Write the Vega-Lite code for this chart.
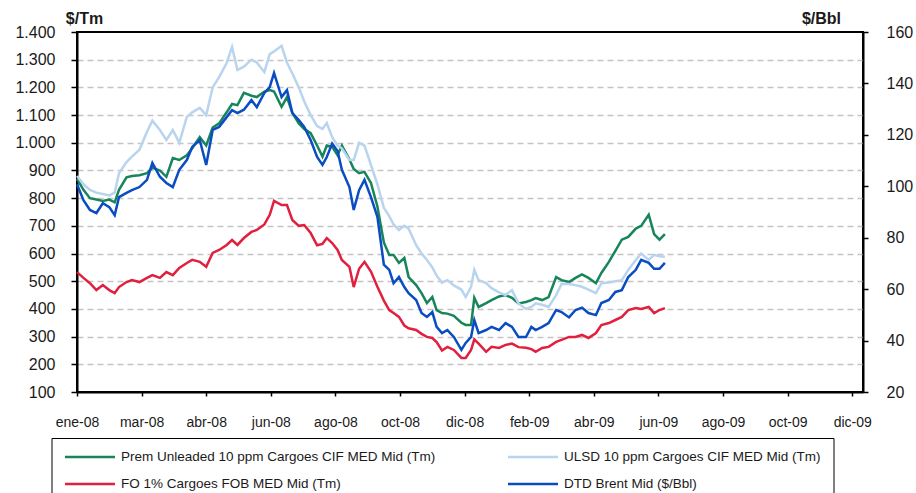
{
  "$schema": "https://vega.github.io/schema/vega-lite/v6.json",
  "width": 786,
  "height": 360,
  "autosize": "none",
  "padding": {"left": 77, "top": 32, "right": 53, "bottom": 101},
  "background": "white",
  "config": {
    "font": "Liberation Sans",
    "view": {"stroke": "#000", "strokeWidth": 2},
    "axis": {"labelFont": "Liberation Sans", "labelColor": "#1a1a1a", "domainColor": "#000", "domainWidth": 2, "tickColor": "#000", "tickWidth": 1.5, "titleFont": "Liberation Sans", "titleColor": "#1a1a1a"}
  },
  "data": {"values": [
    {"date": "2008-01-01", "prem": 870, "ulsd": 880, "fo": 533, "brent": 100.8},
    {"date": "2008-01-07", "prem": 830, "ulsd": 850, "fo": 512, "brent": 94.6},
    {"date": "2008-01-13", "prem": 800, "ulsd": 830, "fo": 493, "brent": 90.8},
    {"date": "2008-01-19", "prem": 795, "ulsd": 820, "fo": 468, "brent": 89.6},
    {"date": "2008-01-25", "prem": 790, "ulsd": 815, "fo": 486, "brent": 93.4},
    {"date": "2008-01-31", "prem": 795, "ulsd": 810, "fo": 468, "brent": 91.9},
    {"date": "2008-02-05", "prem": 785, "ulsd": 820, "fo": 457, "brent": 88.8},
    {"date": "2008-02-09", "prem": 830, "ulsd": 890, "fo": 479, "brent": 95.8},
    {"date": "2008-02-16", "prem": 875, "ulsd": 930, "fo": 497, "brent": 97.4},
    {"date": "2008-02-21", "prem": 880, "ulsd": 950, "fo": 504, "brent": 98.5},
    {"date": "2008-02-28", "prem": 883, "ulsd": 975, "fo": 497, "brent": 99.7},
    {"date": "2008-03-06", "prem": 890, "ulsd": 1040, "fo": 512, "brent": 102.5},
    {"date": "2008-03-11", "prem": 910, "ulsd": 1080, "fo": 522, "brent": 109.1},
    {"date": "2008-03-18", "prem": 900, "ulsd": 1046, "fo": 512, "brent": 103.7},
    {"date": "2008-03-24", "prem": 877, "ulsd": 1010, "fo": 533, "brent": 101.3},
    {"date": "2008-03-30", "prem": 945, "ulsd": 1046, "fo": 522, "brent": 99.7},
    {"date": "2008-04-05", "prem": 938, "ulsd": 1000, "fo": 548, "brent": 106.4},
    {"date": "2008-04-12", "prem": 955, "ulsd": 1093, "fo": 566, "brent": 110.2},
    {"date": "2008-04-17", "prem": 980, "ulsd": 1110, "fo": 577, "brent": 115.3},
    {"date": "2008-04-24", "prem": 1020, "ulsd": 1126, "fo": 570, "brent": 118.0},
    {"date": "2008-04-30", "prem": 990, "ulsd": 1100, "fo": 552, "brent": 108.3},
    {"date": "2008-05-06", "prem": 1055, "ulsd": 1200, "fo": 602, "brent": 121.9},
    {"date": "2008-05-12", "prem": 1070, "ulsd": 1237, "fo": 613, "brent": 123.1},
    {"date": "2008-05-19", "prem": 1110, "ulsd": 1288, "fo": 631, "brent": 126.9},
    {"date": "2008-05-24", "prem": 1140, "ulsd": 1346, "fo": 649, "brent": 129.6},
    {"date": "2008-05-29", "prem": 1136, "ulsd": 1263, "fo": 631, "brent": 128.5},
    {"date": "2008-06-04", "prem": 1180, "ulsd": 1275, "fo": 656, "brent": 129.8},
    {"date": "2008-06-11", "prem": 1170, "ulsd": 1300, "fo": 678, "brent": 133.5},
    {"date": "2008-06-16", "prem": 1165, "ulsd": 1290, "fo": 685, "brent": 130.8},
    {"date": "2008-06-23", "prem": 1185, "ulsd": 1255, "fo": 705, "brent": 136.3},
    {"date": "2008-06-28", "prem": 1190, "ulsd": 1320, "fo": 740, "brent": 138.6},
    {"date": "2008-07-02", "prem": 1185, "ulsd": 1330, "fo": 790, "brent": 144.1},
    {"date": "2008-07-09", "prem": 1130, "ulsd": 1350, "fo": 775, "brent": 134.7},
    {"date": "2008-07-14", "prem": 1165, "ulsd": 1290, "fo": 775, "brent": 137.4},
    {"date": "2008-07-19", "prem": 1108, "ulsd": 1250, "fo": 721, "brent": 128.5},
    {"date": "2008-07-25", "prem": 1070, "ulsd": 1200, "fo": 700, "brent": 125.8},
    {"date": "2008-07-30", "prem": 1050, "ulsd": 1150, "fo": 703, "brent": 123.1},
    {"date": "2008-08-05", "prem": 1035, "ulsd": 1100, "fo": 674, "brent": 118.0},
    {"date": "2008-08-11", "prem": 990, "ulsd": 1060, "fo": 630, "brent": 111.4},
    {"date": "2008-08-16", "prem": 950, "ulsd": 1050, "fo": 635, "brent": 108.3},
    {"date": "2008-08-20", "prem": 990, "ulsd": 1071, "fo": 656, "brent": 111.4},
    {"date": "2008-08-25", "prem": 985, "ulsd": 1020, "fo": 638, "brent": 116.6},
    {"date": "2008-08-30", "prem": 955, "ulsd": 990, "fo": 613, "brent": 113.7},
    {"date": "2008-09-03", "prem": 990, "ulsd": 980, "fo": 577, "brent": 106.4},
    {"date": "2008-09-10", "prem": 940, "ulsd": 938, "fo": 552, "brent": 99.7},
    {"date": "2008-09-14", "prem": 905, "ulsd": 938, "fo": 479, "brent": 90.8},
    {"date": "2008-09-19", "prem": 890, "ulsd": 1000, "fo": 545, "brent": 98.5},
    {"date": "2008-09-24", "prem": 895, "ulsd": 990, "fo": 570, "brent": 102.5},
    {"date": "2008-09-30", "prem": 855, "ulsd": 920, "fo": 535, "brent": 95.8},
    {"date": "2008-10-06", "prem": 770, "ulsd": 850, "fo": 480, "brent": 88.1},
    {"date": "2008-10-12", "prem": 640, "ulsd": 765, "fo": 430, "brent": 69.5},
    {"date": "2008-10-17", "prem": 595, "ulsd": 735, "fo": 396, "brent": 67.5},
    {"date": "2008-10-21", "prem": 595, "ulsd": 705, "fo": 385, "brent": 62.3},
    {"date": "2008-10-26", "prem": 566, "ulsd": 685, "fo": 371, "brent": 64.7},
    {"date": "2008-10-31", "prem": 584, "ulsd": 700, "fo": 340, "brent": 60.8},
    {"date": "2008-11-04", "prem": 515, "ulsd": 690, "fo": 330, "brent": 58.4},
    {"date": "2008-11-11", "prem": 486, "ulsd": 630, "fo": 324, "brent": 55.8},
    {"date": "2008-11-16", "prem": 457, "ulsd": 600, "fo": 310, "brent": 50.7},
    {"date": "2008-11-21", "prem": 421, "ulsd": 577, "fo": 299, "brent": 49.2},
    {"date": "2008-11-26", "prem": 443, "ulsd": 550, "fo": 295, "brent": 51.1},
    {"date": "2008-11-30", "prem": 396, "ulsd": 520, "fo": 280, "brent": 45.3},
    {"date": "2008-12-05", "prem": 385, "ulsd": 495, "fo": 250, "brent": 42.9},
    {"date": "2008-12-10", "prem": 383, "ulsd": 504, "fo": 263, "brent": 44.1},
    {"date": "2008-12-16", "prem": 375, "ulsd": 485, "fo": 252, "brent": 41.4},
    {"date": "2008-12-23", "prem": 350, "ulsd": 470, "fo": 223, "brent": 36.4},
    {"date": "2008-12-27", "prem": 342, "ulsd": 443, "fo": 223, "brent": 39.1},
    {"date": "2009-01-01", "prem": 342, "ulsd": 480, "fo": 252, "brent": 41.4},
    {"date": "2009-01-04", "prem": 440, "ulsd": 541, "fo": 290, "brent": 48.0},
    {"date": "2009-01-08", "prem": 407, "ulsd": 504, "fo": 275, "brent": 42.9},
    {"date": "2009-01-15", "prem": 421, "ulsd": 493, "fo": 245, "brent": 44.1},
    {"date": "2009-01-20", "prem": 432, "ulsd": 475, "fo": 263, "brent": 45.3},
    {"date": "2009-01-27", "prem": 445, "ulsd": 460, "fo": 259, "brent": 44.1},
    {"date": "2009-02-02", "prem": 450, "ulsd": 450, "fo": 270, "brent": 46.8},
    {"date": "2009-02-08", "prem": 440, "ulsd": 468, "fo": 275, "brent": 45.3},
    {"date": "2009-02-14", "prem": 420, "ulsd": 420, "fo": 262, "brent": 41.4},
    {"date": "2009-02-21", "prem": 425, "ulsd": 400, "fo": 260, "brent": 41.4},
    {"date": "2009-02-26", "prem": 432, "ulsd": 407, "fo": 255, "brent": 45.3},
    {"date": "2009-03-02", "prem": 439, "ulsd": 420, "fo": 245, "brent": 44.1},
    {"date": "2009-03-08", "prem": 432, "ulsd": 415, "fo": 259, "brent": 45.3},
    {"date": "2009-03-14", "prem": 443, "ulsd": 407, "fo": 263, "brent": 46.8},
    {"date": "2009-03-21", "prem": 515, "ulsd": 450, "fo": 281, "brent": 51.9},
    {"date": "2009-03-26", "prem": 504, "ulsd": 490, "fo": 288, "brent": 51.1},
    {"date": "2009-04-02", "prem": 497, "ulsd": 490, "fo": 299, "brent": 49.0},
    {"date": "2009-04-08", "prem": 512, "ulsd": 486, "fo": 299, "brent": 51.9},
    {"date": "2009-04-14", "prem": 525, "ulsd": 480, "fo": 306, "brent": 52.8},
    {"date": "2009-04-20", "prem": 512, "ulsd": 470, "fo": 295, "brent": 50.7},
    {"date": "2009-04-27", "prem": 493, "ulsd": 457, "fo": 313, "brent": 49.9},
    {"date": "2009-05-02", "prem": 530, "ulsd": 493, "fo": 342, "brent": 54.6},
    {"date": "2009-05-09", "prem": 570, "ulsd": 495, "fo": 349, "brent": 55.8},
    {"date": "2009-05-15", "prem": 610, "ulsd": 500, "fo": 360, "brent": 58.9},
    {"date": "2009-05-21", "prem": 650, "ulsd": 504, "fo": 371, "brent": 59.6},
    {"date": "2009-05-27", "prem": 660, "ulsd": 541, "fo": 396, "brent": 64.7},
    {"date": "2009-06-03", "prem": 690, "ulsd": 577, "fo": 403, "brent": 67.5},
    {"date": "2009-06-08", "prem": 700, "ulsd": 600, "fo": 400, "brent": 71.4},
    {"date": "2009-06-15", "prem": 740, "ulsd": 577, "fo": 407, "brent": 70.2},
    {"date": "2009-06-20", "prem": 670, "ulsd": 595, "fo": 385, "brent": 67.9},
    {"date": "2009-06-25", "prem": 650, "ulsd": 590, "fo": 396, "brent": 67.9},
    {"date": "2009-06-30", "prem": 670, "ulsd": 588, "fo": 403, "brent": 70.2}
  ]},
  "encoding": {
    "x": {
      "field": "date", "type": "temporal",
      "scale": {"type": "utc", "domain": [{"year": 2008, "month": 1, "date": 1, "utc": true}, {"year": 2009, "month": 12, "date": 31, "utc": true}]},
      "axis": {
        "title": null, "grid": false, "labelFlush": false, "labelOverlap": false,
        "labelFontSize": 14, "labelPadding": 19, "tickSize": 4,
        "values": [
          {"year": 2008, "month": 1, "date": 1, "utc": true},
          {"year": 2008, "month": 3, "date": 1, "utc": true},
          {"year": 2008, "month": 4, "date": 30, "utc": true},
          {"year": 2008, "month": 6, "date": 29, "utc": true},
          {"year": 2008, "month": 8, "date": 28, "utc": true},
          {"year": 2008, "month": 10, "date": 27, "utc": true},
          {"year": 2008, "month": 12, "date": 26, "utc": true},
          {"year": 2009, "month": 2, "date": 24, "utc": true},
          {"year": 2009, "month": 4, "date": 25, "utc": true},
          {"year": 2009, "month": 6, "date": 24, "utc": true},
          {"year": 2009, "month": 8, "date": 23, "utc": true},
          {"year": 2009, "month": 10, "date": 22, "utc": true},
          {"year": 2009, "month": 12, "date": 21, "utc": true}
        ],
        "labelExpr": "['ene','feb','mar','abr','may','jun','jul','ago','sep','oct','nov','dic'][utcmonth(datum.value)] + '-' + utcFormat(datum.value, '%y')"
      }
    }
  },
  "layer": [
    {
      "transform": [{"fold": ["prem", "ulsd", "fo"], "as": ["series", "value"]}],
      "mark": {"type": "line", "strokeWidth": 2.5},
      "encoding": {
        "y": {
          "field": "value", "type": "quantitative",
          "scale": {"domain": [100, 1400], "nice": false, "zero": false},
          "axis": {
            "title": "$/Tm", "titleAngle": 0, "titleX": 7, "titleY": -14, "titleAlign": "center", "titleBaseline": "middle",
            "titleFontSize": 16, "titleFontWeight": "bold",
            "values": [100, 200, 300, 400, 500, 600, 700, 800, 900, 1000, 1100, 1200, 1300, 1400],
            "labelFontSize": 16, "labelPadding": 16, "tickSize": 6,
            "grid": true, "gridColor": "#c4c4c4", "gridDash": [6, 4], "gridWidth": 1.5,
            "gridOpacity": {"condition": {"test": "datum.value == 100 || datum.value == 1400", "value": 0}, "value": 1},
            "labelExpr": "replace(format(datum.value, ','), ',', '.')"
          }
        },
        "color": {
          "field": "series", "type": "nominal",
          "scale": {"domain": ["prem", "ulsd", "fo", "brent"], "range": ["#17855a", "#b8d4ee", "#e0203e", "#0a4cc2"]},
          "legend": {
            "orient": "none", "legendX": -25.5, "legendY": 406, "columns": 2, "direction": "horizontal", "gridAlign": "all", "title": null,
            "symbolType": "stroke", "symbolSize": 2500, "symbolStrokeWidth": 2.5, "clipHeight": 14,
            "labelFont": "Liberation Sans", "labelFontSize": 13.5, "labelColor": "#1a1a1a", "labelLimit": 500, "labelOffset": 4.5,
            "columnPadding": 71, "rowPadding": 13, "padding": 12, "strokeColor": "#000", "fillColor": "#fff",
            "labelExpr": "datum.value == 'prem' ? 'Prem Unleaded 10 ppm Cargoes CIF MED Mid (Tm)' : datum.value == 'ulsd' ? 'ULSD 10 ppm Cargoes CIF MED Mid (Tm)' : datum.value == 'fo' ? 'FO 1% Cargoes FOB MED Mid (Tm)' : 'DTD Brent Mid ($/Bbl)'"
          }
        }
      }
    },
    {
      "transform": [{"fold": ["brent"], "as": ["series", "value"]}],
      "mark": {"type": "line", "strokeWidth": 2.5},
      "encoding": {
        "y": {
          "field": "value", "type": "quantitative",
          "scale": {"domain": [20, 160], "nice": false, "zero": false},
          "axis": {
            "orient": "right", "title": "$/Bbl", "titleAngle": 0, "titleX": -42, "titleY": -14, "titleAlign": "center", "titleBaseline": "middle",
            "titleFontSize": 16, "titleFontWeight": "bold",
            "values": [20, 40, 60, 80, 100, 120, 140, 160],
            "labelFontSize": 16, "labelPadding": 18, "tickSize": 5, "grid": false
          }
        },
        "color": {
          "field": "series", "type": "nominal",
          "scale": {"domain": ["prem", "ulsd", "fo", "brent"], "range": ["#17855a", "#b8d4ee", "#e0203e", "#0a4cc2"]}
        }
      }
    }
  ],
  "resolve": {"scale": {"y": "independent"}, "axis": {"y": "independent"}}
}
